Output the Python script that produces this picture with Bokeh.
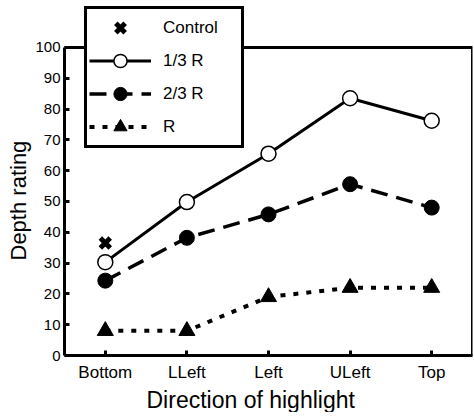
from bokeh.plotting import figure
from bokeh.models import Legend, LegendItem, FixedTicker, FactorRange, BoxAnnotation, Title
from bokeh.embed import file_html
from bokeh.resources import INLINE

directions = ["Bottom", "LLeft", "Left", "ULeft", "Top"]
control_dir = ["Bottom"]
control = [36.5]
r13 = [30.3, 49.8, 65.5, 83.5, 76.2]
r23 = [24.3, 38.2, 45.8, 55.6, 48.0]
r_full = [8.0, 8.0, 19.0, 22.0, 22.0]
y_ticks = [0, 10, 20, 30, 40, 50, 60, 70, 80, 90, 100]
x_title = "Direction of highlight"
y_title = "Depth rating"

FONT = "Liberation Sans"
Y_TOP = 100
Y_VIEW = 114.9  # extra room above the frame for the legend box

p = figure(frame_width=408, frame_height=354, output_backend="svg", toolbar_location=None,
           x_range=FactorRange(*directions, range_padding=0), y_range=(0, Y_VIEW),
           min_border_left=64, min_border_right=2, min_border_top=1, min_border_bottom=56)
p.title.visible = False
p.grid.visible = False
p.outline_line_color = None
p.background_fill_color = "white"
p.border_fill_color = "white"

p.add_layout(BoxAnnotation(bottom=0, top=Y_TOP, fill_alpha=0, line_color="black",
                           line_width=3, line_alpha=1))

l13 = p.line(directions, r13, line_color="black", line_width=3)
s13 = p.scatter(directions, r13, marker="circle", size=15, fill_color="white", line_color="black", line_width=1.5)
l23 = p.line(directions, r23, line_color="black", line_width=3.5, line_dash="17 9")
s23 = p.scatter(directions, r23, marker="circle", size=15, fill_color="black", line_color="black")
lr = p.line(directions, r_full, line_color="black", line_width=4, line_dash="5 8")
sr = p.scatter(directions, r_full, marker="triangle", size=16, fill_color="black", line_color="black")
sc = p.scatter(control_dir, control, marker="x", size=14, line_color="black", line_width=5)

xa = p.xaxis[0]
ya = p.yaxis[0]
ya.bounds = (0, Y_TOP)
ya.ticker = FixedTicker(ticks=y_ticks)
for ax in (xa, ya):
    ax.axis_line_width = 3
    ax.axis_line_color = "black"
    ax.major_tick_line_width = 3
    ax.major_tick_in = 5
    ax.major_tick_out = 0
    ax.minor_tick_line_color = None
    ax.major_label_text_font = FONT
    ax.major_label_text_color = "black"

ya.major_label_text_font_size = "15px"
ya.major_label_standoff = 4
xa.major_label_text_font_size = "17px"
xa.major_label_standoff = 7

# axis titles as side-panel titles, aligned to where the 0-100 axis text sits
p.add_layout(Title(text=y_title, align="left", offset=95, standoff=3,
                   text_font=FONT, text_font_size="22px", text_font_style="normal",
                   text_color="black"), "left")
p.add_layout(Title(text=x_title, align="left", offset=82, standoff=0,
                   text_font=FONT, text_font_size="23px", text_font_style="normal",
                   text_color="black"), "below")

legend = Legend(items=[
    LegendItem(label="Control", renderers=[sc]),
    LegendItem(label="1/3 R", renderers=[l13, s13]),
    LegendItem(label="2/3 R", renderers=[l23, s23]),
    LegendItem(label="R", renderers=[lr, sr]),
], location=(20, 207))
legend.border_line_color = "black"
legend.border_line_alpha = 1
legend.border_line_width = 3
legend.background_fill_color = "white"
legend.background_fill_alpha = 1
legend.padding = 2
legend.spacing = 0
legend.label_height = 33
legend.glyph_height = 33
legend.glyph_width = 62
legend.label_standoff = 12
legend.label_width = 76
legend.label_text_font = FONT
legend.label_text_font_size = "17px"
legend.label_text_color = "black"
legend.margin = 0
p.add_layout(legend, "center")

open("out.html", "w").write(file_html(p, INLINE))
